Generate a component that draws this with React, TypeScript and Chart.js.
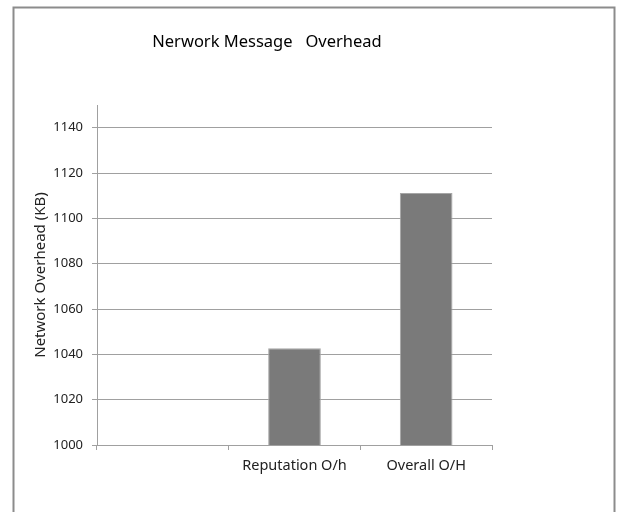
import React, { useEffect, useRef } from "react";
import { Chart, registerables } from "chart.js";

Chart.register(...registerables);

const chartTitle = "Nerwork Message   Overhead";
const yAxisTitle = "Network Overhead (KB)";
const categories = ["", "Reputation O/h", "Overall O/H"];
const overheadValues: (number | null)[] = [null, 1042.7, 1111.2];
const yMin = 1000;
const yMax = 1150;
const yStep = 20;

const FONT = "'Noto Sans', sans-serif";

const framePlugin = {
  id: "frameAndTitle",
  beforeDraw(chart: any) {
    const ctx = chart.ctx;
    ctx.save();
    ctx.fillStyle = "#ffffff";
    ctx.fillRect(0, 0, chart.width, chart.height);
    ctx.strokeStyle = "#8c8c8c";
    ctx.lineWidth = 2;
    ctx.strokeRect(13.5, 7.5, 601, 520);
    ctx.fillStyle = "#000000";
    ctx.font = `16.5px ${FONT}`;
    ctx.textAlign = "center";
    ctx.textBaseline = "middle";
    ctx.fillText(chartTitle, 267, 42);
    ctx.restore();
  },
};

export default function App() {
  const ref = useRef<HTMLCanvasElement>(null);
  useEffect(() => {
    if (!ref.current) return;
    const chart = new Chart(ref.current, {
      type: "bar",
      data: {
        labels: categories,
        datasets: [
          {
            data: overheadValues,
            backgroundColor: "#7a7a7a",
            borderColor: "#a6a6a6",
            borderWidth: 1,
            barPercentage: 0.4,
            categoryPercentage: 1,
          },
        ],
      },
      options: {
        responsive: false,
        animation: false,
        layout: { padding: { left: 30, right: 126, top: 105, bottom: 27 } },
        plugins: {
          legend: { display: false },
          title: { display: false },
          tooltip: { enabled: false },
        },
        scales: {
          x: {
            afterFit: (s: any) => {
              s.height = 40;
            },
            grid: {
              display: true,
              offset: true,
              drawOnChartArea: false,
              drawTicks: true,
              tickLength: 5,
              color: "#a0a0a0",
            },
            border: { display: true, color: "#a0a0a0", width: 1 },
            ticks: {
              color: "#222222",
              font: { family: FONT, size: 14.5 },
              padding: 7,
              maxRotation: 0,
            },
          },
          y: {
            min: yMin,
            max: yMax,
            afterFit: (s: any) => {
              s.width = 67;
            },
            afterBuildTicks: (s: any) => {
              s.ticks = s.ticks.filter((t: any) => t.value % yStep === 0);
            },
            ticks: {
              stepSize: yStep,
              color: "#222222",
              font: { family: FONT, size: 13 },
              padding: 9,
              callback: (v: any) => String(v),
            },
            grid: {
              color: "#a0a0a0",
              tickLength: 5,
            },
            border: { display: true, color: "#a0a0a0", width: 1 },
            title: {
              display: true,
              text: yAxisTitle,
              color: "#222222",
              font: { family: FONT, size: 15 },
              padding: { top: 2, bottom: 0 },
            },
          },
        },
      },
      plugins: [framePlugin],
    });
    return () => chart.destroy();
  }, []);
  return (
    <div style={{ position: "absolute", left: 0, top: 0, width: 618, height: 512 }}>
      <canvas ref={ref} width={618} height={512} />
    </div>
  );
}
